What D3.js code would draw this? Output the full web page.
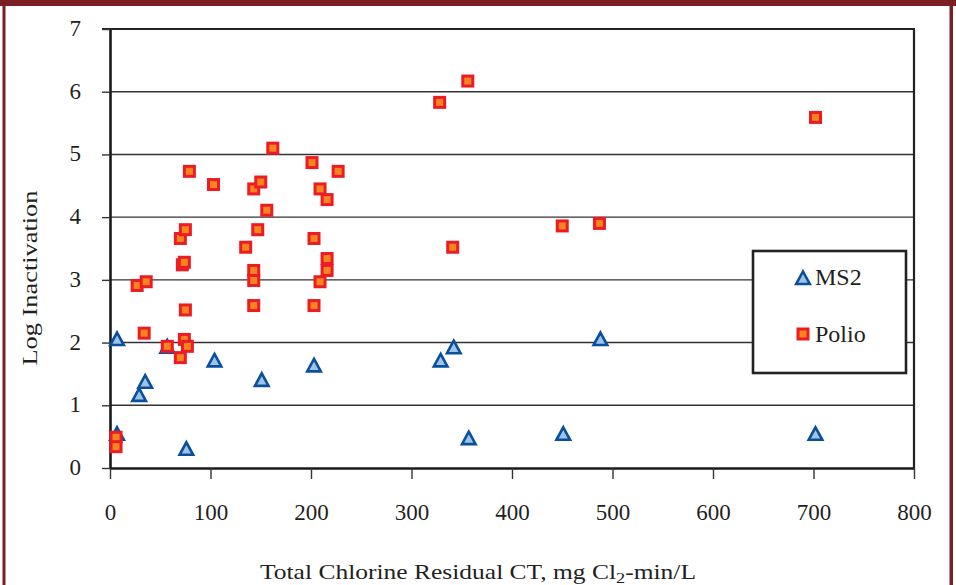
<!DOCTYPE html>
<html>
<head>
<meta charset="utf-8">
<script src="https://cdn.jsdelivr.net/npm/d3@7"></script>
<style>
  body { margin: 0; background: #fff; }
  text { font-family: "Liberation Serif", "Times New Roman", serif; fill: #231f20; }
</style>
</head>
<body>
<div id="chart"></div>
<script>
// values
var ms2CT  = [7, 7, 29, 35, 57, 76, 104, 151, 203, 329, 342, 357, 451, 488, 702];
var ms2Log = [2.04, 0.53, 1.15, 1.36, 1.92, 0.29, 1.70, 1.39, 1.62, 1.70, 1.91, 0.46, 0.53, 2.04, 0.53];

var polioCT  = [6, 6, 27, 36, 34, 57, 70, 74, 77, 75, 72, 74, 70, 75, 79, 103, 135, 143, 143, 143,
                143, 147, 150, 156, 162, 201, 203, 203, 209, 209, 216, 216, 216, 227, 328, 341, 356, 450, 487, 702];
var polioLog = [0.49, 0.34, 2.91, 2.97, 2.15, 1.94, 1.76, 2.05, 1.94, 2.52, 3.24, 3.28, 3.66, 3.80, 4.73, 4.52, 3.52, 3.15, 2.99, 2.59,
                4.45, 3.80, 4.56, 4.11, 5.10, 4.87, 3.66, 2.59, 4.45, 2.97, 4.28, 3.34, 3.15, 4.73, 5.83, 3.52, 6.17, 3.86, 3.90, 5.59];

var xTicks = [0, 100, 200, 300, 400, 500, 600, 700, 800];
var yTicks = [0, 1, 2, 3, 4, 5, 6, 7];
var seriesNames = ['MS2', 'Polio'];

var width = 956, height = 585;
// plot box edges (note: "top" is taken by window.top)
var pLeft = 110, pRight = 914, pTop = 29, pBottom = 468;

var svg = d3.select('#chart').append('svg')
  .attr('width', width)
  .attr('height', height);

// page frame (dark red)
svg.append('rect').attr('x', 0).attr('y', 0).attr('width', width).attr('height', 6).attr('fill', '#7b1f24');
svg.append('rect').attr('x', 2.5).attr('y', 0).attr('width', 3).attr('height', height).attr('fill', '#7b1f24');
svg.append('rect').attr('x', 949.5).attr('y', 0).attr('width', 3.5).attr('height', height).attr('fill', '#7b1f24');

var x = d3.scaleLinear().domain([0, 800]).range([pLeft, pRight]);
var y = d3.scaleLinear().domain([0, 7]).range([pBottom, pTop]);

// gridlines
svg.append('g').selectAll('line')
  .data(yTicks.filter(function(d) { return d > 0 && d < 7; }))
  .enter().append('line')
  .attr('x1', pLeft).attr('x2', pRight)
  .attr('y1', function(d) { return y(d); })
  .attr('y2', function(d) { return y(d); })
  .attr('stroke', '#333')
  .attr('stroke-width', 1.4);

// top and right edges of the plot box
svg.append('line').attr('x1', pLeft - 8).attr('x2', pRight + 1).attr('y1', pTop).attr('y2', pTop)
  .attr('stroke', '#222').attr('stroke-width', 2.2);
svg.append('line').attr('x1', pRight).attr('x2', pRight).attr('y1', pTop).attr('y2', pBottom)
  .attr('stroke', '#222').attr('stroke-width', 2.2);

var xAxis = svg.append('g')
  .attr('transform', 'translate(0,' + pBottom + ')')
  .call(d3.axisBottom(x).tickValues(xTicks).tickFormat(d3.format('d'))
    .tickSize(11).tickPadding(25).tickSizeOuter(0));

var yAxis = svg.append('g')
  .attr('transform', 'translate(' + pLeft + ',0)')
  .call(d3.axisLeft(y).tickValues(yTicks).tickFormat(d3.format('d'))
    .tickSize(8).tickPadding(21).tickSizeOuter(0));

[xAxis, yAxis].forEach(function(g) {
  g.select('.domain').attr('stroke', '#1a1a1a').attr('stroke-width', 2.6);
  g.selectAll('.tick line').attr('stroke', '#333').attr('stroke-width', 1.4);
  g.selectAll('.tick text')
    .style('font-family', '"Liberation Serif", serif')
    .style('font-size', '23px')
    .attr('fill', '#231f20');
});
yAxis.selectAll('.tick text').attr('dy', '0.28em');

// axis titles
svg.append('text')
  .attr('transform', 'translate(37,278) rotate(-90)')
  .attr('text-anchor', 'middle')
  .attr('textLength', 175)
  .attr('lengthAdjust', 'spacingAndGlyphs')
  .style('font-size', '22px')
  .text('Log Inactivation');

var xTitle = svg.append('text')
  .attr('x', 478).attr('y', 579)
  .attr('text-anchor', 'middle')
  .attr('textLength', 436)
  .attr('lengthAdjust', 'spacingAndGlyphs')
  .style('font-size', '21px');
xTitle.append('tspan').text('Total Chlorine Residual CT, mg Cl');
xTitle.append('tspan').attr('dy', 4).style('font-size', '15px').text('2');
xTitle.append('tspan').attr('dy', -4).text('-min/L');

// markers
function triPath(cx, cy) {
  var w = 6.8, h = 12.5;
  return 'M' + cx + ',' + (cy - h * 0.6) +
         'L' + (cx + w) + ',' + (cy + h * 0.4) +
         'L' + (cx - w) + ',' + (cy + h * 0.4) + 'Z';
}

var polio = polioCT.map(function(d, i) { return { ct: d, log: polioLog[i] }; });
var ms2 = ms2CT.map(function(d, i) { return { ct: d, log: ms2Log[i] }; });

svg.append('g').selectAll('path')
  .data(ms2)
  .enter().append('path')
  .attr('d', function(d) { return triPath(x(d.ct), y(d.log)); })
  .attr('fill', '#9dc3e6')
  .attr('stroke', '#0a4f9c')
  .attr('stroke-width', 2.6)
  .attr('stroke-linejoin', 'miter');

svg.append('g').selectAll('rect')
  .data(polio)
  .enter().append('rect')
  .attr('x', function(d) { return x(d.ct) - 5; })
  .attr('y', function(d) { return y(d.log) - 5; })
  .attr('width', 10).attr('height', 10)
  .attr('fill', '#f7841e')
  .attr('stroke', '#ed1c24')
  .attr('stroke-width', 3);

// legend
var legend = svg.append('g');
legend.append('rect')
  .attr('x', 753).attr('y', 251).attr('width', 153).attr('height', 122)
  .attr('fill', '#fff').attr('stroke', '#222').attr('stroke-width', 2.6);

legend.append('path')
  .attr('d', triPath(803, 279))
  .attr('fill', '#9dc3e6').attr('stroke', '#0a4f9c').attr('stroke-width', 2.6);
legend.append('rect')
  .attr('x', 798).attr('y', 329).attr('width', 10).attr('height', 10)
  .attr('fill', '#f7841e').attr('stroke', '#ed1c24').attr('stroke-width', 3);

legend.selectAll('text.lbl')
  .data(seriesNames)
  .enter().append('text')
  .attr('class', 'lbl')
  .attr('x', 815)
  .attr('y', function(d, i) { return 285 + i * 57; })
  .style('font-size', '24px')
  .text(function(d) { return d; });
</script>
</body>
</html>
